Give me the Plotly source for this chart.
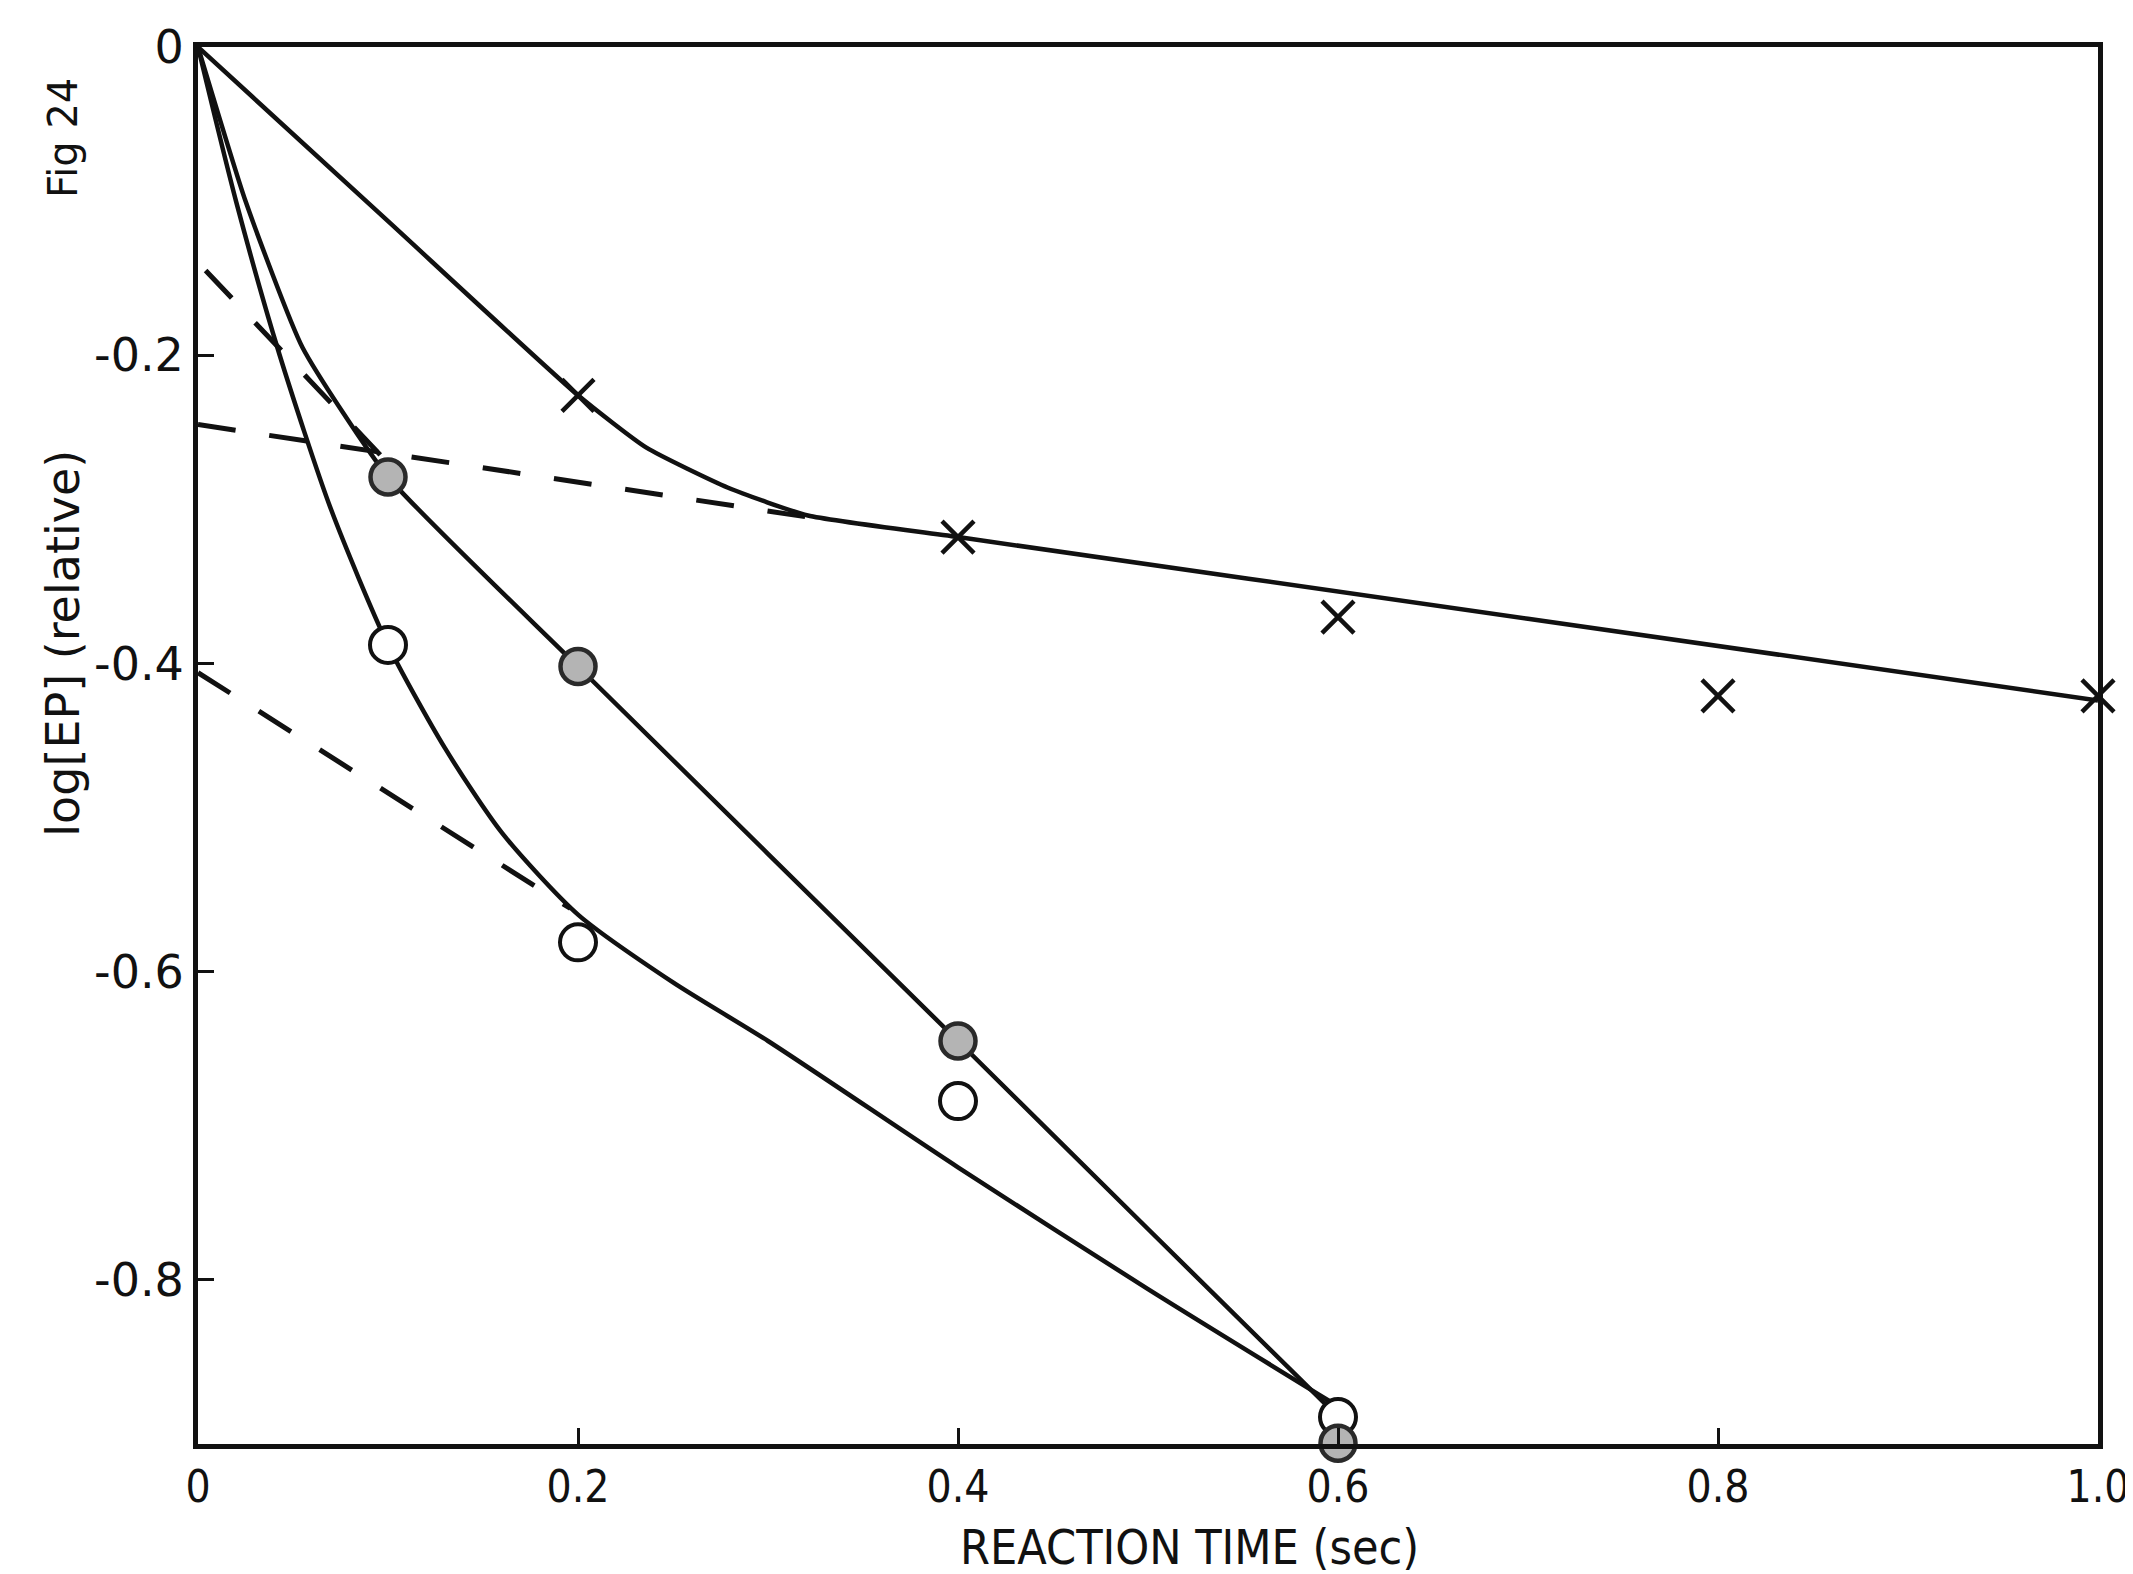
import plotly.graph_objects as go

# ---- data ----
time_pts = [0.2, 0.4, 0.6, 0.8, 1.0]
cross_vals = [-0.226, -0.318, -0.370, -0.421, -0.421]

filled_t = [0.1, 0.2, 0.4, 0.6]
filled_vals = [-0.279, -0.402, -0.645, -0.906]

open_t = [0.1, 0.2, 0.4, 0.6]
open_vals = [-0.388, -0.581, -0.684, -0.889]

# hand-drawn fitted curves (vertices)
cross_curve_t = [0.0, 0.1, 0.2, 0.236, 0.279, 0.321, 0.4, 0.7, 1.0]
cross_curve_v = [0.0, -0.113, -0.226, -0.260, -0.286, -0.304, -0.318, -0.371, -0.424]

filled_curve_t = [0.0, 0.025, 0.055, 0.1, 0.2, 0.4, 0.5, 0.597]
filled_curve_v = [0.0, -0.1, -0.195, -0.279, -0.402, -0.645, -0.767, -0.885]

open_curve_t = [0.0, 0.02, 0.043, 0.07, 0.1, 0.13, 0.16, 0.2, 0.25, 0.3, 0.4, 0.5, 0.6]
open_curve_v = [0.0, -0.1, -0.2, -0.3, -0.388, -0.455, -0.51, -0.563, -0.607, -0.645, -0.727, -0.806, -0.882]

# dashed extrapolations
dash1_t = [0.0, 0.321]
dash1_v = [-0.245, -0.305]
dash2_t = [0.004, 0.1]
dash2_v = [-0.145, -0.27]
dash3_t = [0.0, 0.196]
dash3_v = [-0.406, -0.559]

x_ticks = [0, 0.2, 0.4, 0.6, 0.8, 1.0]
x_ticktext = ["0", "0.2", "0.4", "0.6", "0.8", "1.0"]
y_ticks = [0, -0.2, -0.4, -0.6, -0.8]
y_ticktext = ["0", "-0.2", "-0.4", "-0.6", "-0.8"]

BLACK = "#111111"
LW = 4.5

fig = go.Figure()

# curves
fig.add_trace(go.Scatter(x=cross_curve_t, y=cross_curve_v, mode="lines",
                         line=dict(color=BLACK, width=LW, shape="spline", smoothing=0.5),
                         showlegend=False))
fig.add_trace(go.Scatter(x=filled_curve_t, y=filled_curve_v, mode="lines",
                         line=dict(color=BLACK, width=LW, shape="spline", smoothing=0.5),
                         showlegend=False))
fig.add_trace(go.Scatter(x=open_curve_t, y=open_curve_v, mode="lines",
                         line=dict(color=BLACK, width=LW, shape="spline", smoothing=0.7),
                         showlegend=False))

for tt, vv in [(dash1_t, dash1_v), (dash2_t, dash2_v), (dash3_t, dash3_v)]:
    fig.add_trace(go.Scatter(x=tt, y=vv, mode="lines",
                             line=dict(color=BLACK, width=5, dash="38px,34px"),
                             showlegend=False))

# markers
fig.add_trace(go.Scatter(x=time_pts, y=cross_vals, mode="markers",
                         marker=dict(symbol="x-thin-open", size=32, color=BLACK,
                                     line=dict(color=BLACK, width=4.5)),
                         showlegend=False, cliponaxis=False))
fig.add_trace(go.Scatter(x=open_t, y=open_vals, mode="markers",
                         marker=dict(symbol="circle", size=36, color="white",
                                     line=dict(color=BLACK, width=4)),
                         showlegend=False, cliponaxis=False))
fig.add_trace(go.Scatter(x=filled_t, y=filled_vals, mode="markers",
                         marker=dict(symbol="circle", size=35, color="#b4b4b4",
                                     line=dict(color="#2a2a2a", width=4.5)),
                         showlegend=False, cliponaxis=False))

font_main = "DejaVu Sans Condensed, Liberation Sans Narrow, DejaVu Sans, sans-serif"

fig.update_xaxes(range=[0, 1.0], tickvals=x_ticks, ticktext=x_ticktext,
                 ticks="inside", ticklen=16, tickwidth=3, tickcolor=BLACK,
                 showline=True, linewidth=5, linecolor=BLACK, mirror=True,
                 showgrid=False, zeroline=False, ticklabeloverflow="allow",
                 tickfont=dict(family=font_main, size=44, color=BLACK))
fig.update_yaxes(range=[-0.9065, 0], tickvals=y_ticks, ticktext=y_ticktext,
                 ticks="inside", ticklen=16, tickwidth=3, tickcolor=BLACK,
                 showline=True, linewidth=5, linecolor=BLACK, mirror=True,
                 showgrid=False, zeroline=False, ticklabeloverflow="allow",
                 tickfont=dict(family="DejaVu Sans, sans-serif", size=46, color=BLACK))

fig.update_layout(
    width=2133, height=1574,
    margin=dict(l=190, r=41, t=28, b=138),
    paper_bgcolor="white", plot_bgcolor="white",
    annotations=[
        dict(text="REACTION TIME (sec)", x=0.522, y=-0.0954, xref="paper", yref="paper",
             showarrow=False, xanchor="center", yanchor="bottom",
             font=dict(family=font_main, size=48, color=BLACK)),
        dict(text="log[EP] (relative)", x=-0.0715, y=0.573, xref="paper", yref="paper",
             showarrow=False, xanchor="center", yanchor="middle", textangle=-90,
             font=dict(family="DejaVu Sans, sans-serif", size=46, color=BLACK)),
        dict(text="Fig 24", x=-0.071, y=0.935, xref="paper", yref="paper",
             showarrow=False, xanchor="center", yanchor="middle", textangle=-90,
             font=dict(family="DejaVu Sans, sans-serif", size=40, color=BLACK)),
    ],
)

fig.write_html("out.html")
